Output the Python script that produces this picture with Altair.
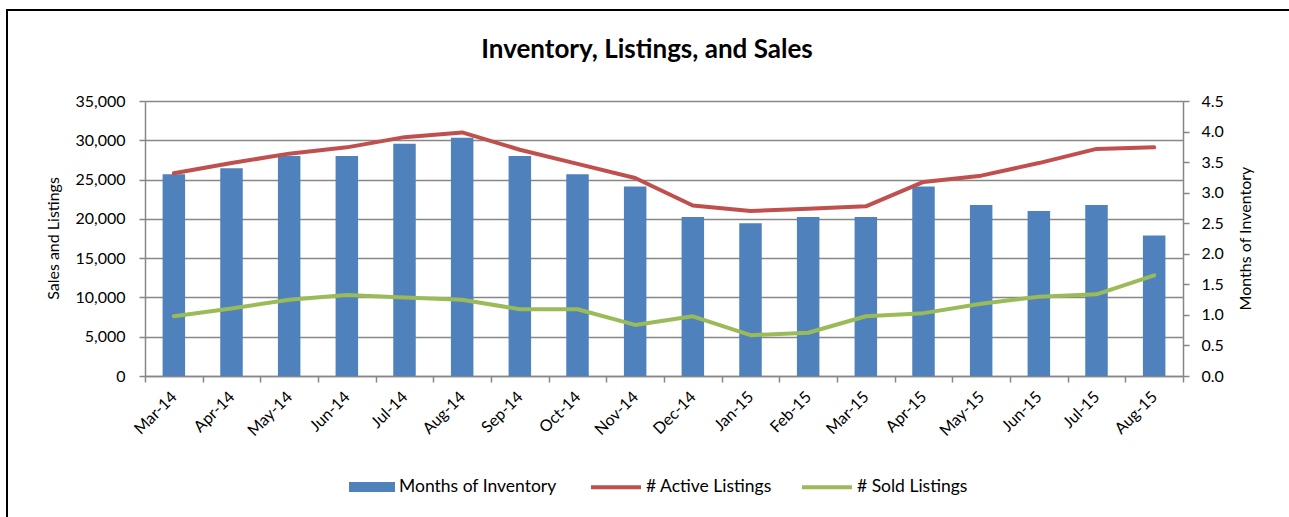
import altair as alt
import pandas as pd

months = ["Mar-14", "Apr-14", "May-14", "Jun-14", "Jul-14", "Aug-14", "Sep-14", "Oct-14", "Nov-14",
          "Dec-14", "Jan-15", "Feb-15", "Mar-15", "Apr-15", "May-15", "Jun-15", "Jul-15", "Aug-15"]
inventory = [3.3, 3.4, 3.6, 3.6, 3.8, 3.9, 3.6, 3.3, 3.1, 2.6, 2.5, 2.6, 2.6, 3.1, 2.8, 2.7, 2.8, 2.3]
active = [25800, 27100, 28300, 29100, 30400, 31000, 28800, 27000, 25200,
          21700, 21000, 21300, 21600, 24700, 25500, 27100, 28900, 29100]
sold = [7600, 8600, 9700, 10300, 10000, 9700, 8500, 8500, 6500,
        7600, 5200, 5500, 7600, 8000, 9200, 10100, 10400, 12800]
left_ticks = [0, 5000, 10000, 15000, 20000, 25000, 30000, 35000]
right_ticks = [0, 0.5, 1.0, 1.5, 2.0, 2.5, 3.0, 3.5, 4.0, 4.5]

df = pd.DataFrame({
    "Month": months,
    "Months of Inventory": inventory,
    "# Active Listings": active,
    "# Sold Listings": sold,
})

FONT = "Lato"
GRAY = "#878787"

x_enc = alt.X(
    "Month:N", sort=months,
    scale=alt.Scale(paddingInner=0, paddingOuter=0),
    axis=alt.Axis(title=None, labelAngle=-45, labelAlign="right", labelBaseline="middle",
                  tickBand="extent", grid=False, tickSize=6, labelPadding=12,
                  labelFontSize=16, domainColor=GRAY, tickColor=GRAY,
                  domainWidth=1.5, tickWidth=1.5, labelColor="black"),
)

# decorative outer frame of the chart (as in the reference image)
frame = alt.Chart(df).mark_rect(fillOpacity=0, stroke="black", strokeWidth=2).encode(
    x=alt.value(-138), x2=alt.value(1160), y=alt.value(-91), y2=alt.value(430)
)

bars = alt.Chart(df).transform_calculate(
    series="'Months of Inventory'"
).mark_bar(width=alt.RelativeBandSize(0.39)).encode(
    x=x_enc,
    y=alt.Y("Months of Inventory:Q",
            scale=alt.Scale(domain=[0, 4.5], nice=False),
            axis=alt.Axis(orient="right", values=right_ticks, format=".1f", grid=False,
                          title="Months of Inventory", titleAngle=-90, titleBaseline="middle",
                          titleX=62, titleY=137, titleAlign="center",
                          tickSize=6, labelPadding=12, labelFontSize=16, titleFontSize=16,
                          titleFontWeight="normal", domainColor=GRAY, tickColor=GRAY,
                          domainWidth=1.5, tickWidth=1.5, labelColor="black", titleColor="black")),
    fill=alt.Fill("series:N",
                  scale=alt.Scale(domain=["Months of Inventory"], range=["#4F81BD"]),
                  legend=alt.Legend(orient="none", legendX=204, legendY=363, direction="horizontal",
                                    title=None, symbolType="M-1,-0.22H1V0.22H-1Z", symbolSize=2116,
                                    symbolStrokeWidth=0, labelFontSize=17.5, labelOffset=4, padding=0,
                                    labelColor="black")),
)

lines = alt.Chart(df).transform_fold(
    ["# Active Listings", "# Sold Listings"], as_=["series2", "value"]
).mark_line(strokeWidth=4, strokeJoin="round", strokeCap="round").encode(
    x=x_enc,
    y=alt.Y("value:Q",
            scale=alt.Scale(domain=[0, 35000], nice=False),
            axis=alt.Axis(orient="left", values=left_ticks, format=",d", grid=True,
                          gridColor=GRAY, gridWidth=1.5,
                          title="Sales and Listings", titleAngle=-90, titleBaseline="middle",
                          titleX=-92, titleY=137, titleAlign="center",
                          tickSize=6, labelPadding=14, labelFontSize=16, titleFontSize=16,
                          titleFontWeight="normal", domainColor=GRAY, tickColor=GRAY,
                          domainWidth=1.5, tickWidth=1.5, labelColor="black", titleColor="black")),
    stroke=alt.Stroke("series2:N",
                      scale=alt.Scale(domain=["# Active Listings", "# Sold Listings"],
                                      range=["#C0504D", "#9BBB59"]),
                      legend=alt.Legend(orient="none", legendX=444, legendY=359, direction="horizontal",
                                        title=None, symbolType="stroke", symbolSize=2500,
                                        symbolStrokeWidth=4, columnPadding=22, labelFontSize=17.5,
                                        labelOffset=3, padding=0, labelColor="black")),
)

chart = alt.layer(bars, lines, frame).resolve_scale(y="independent").properties(
    width=1038, height=275,
    autosize=alt.AutoSizeParams(type="none"),
    padding={"left": 145, "top": 101, "right": 106, "bottom": 141},
    title=alt.TitleParams("Inventory, Listings, and Sales", fontSize=26, font=FONT,
                          fontWeight="bold", anchor="middle", frame="group", dx=-17,
                          offset=-54, color="black"),
).configure(
    font=FONT,
    background="white",
).configure_view(stroke=None).configure_axis(labelFont=FONT, titleFont=FONT).configure_legend(labelFont=FONT)

chart.save("out.html", embed_options={"renderer": "svg", "actions": False})
